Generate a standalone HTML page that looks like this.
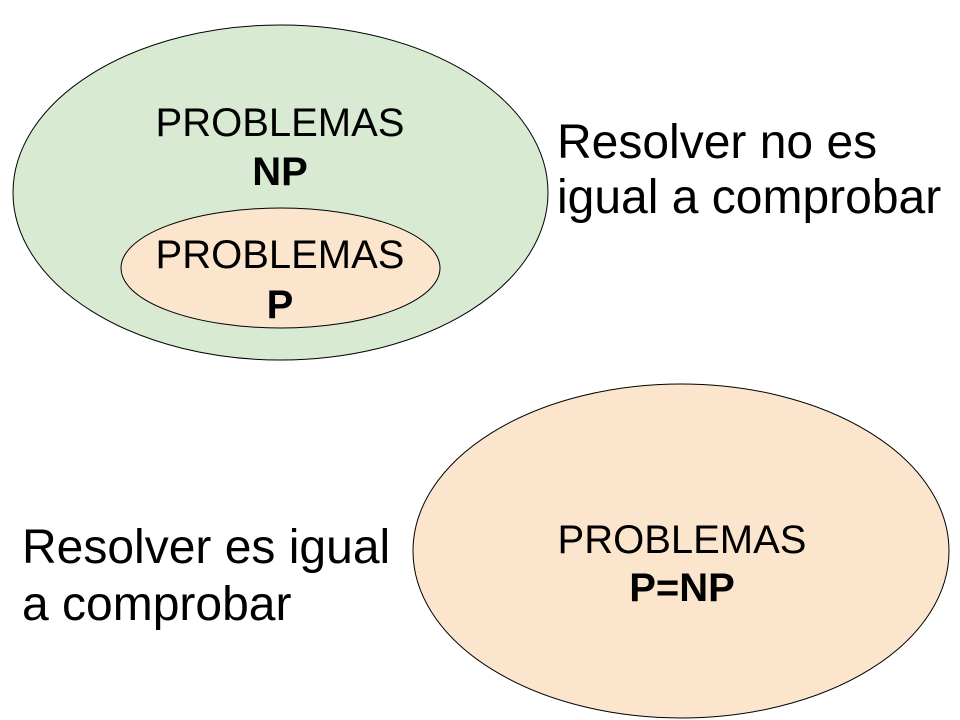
<!DOCTYPE html>
<html><head><meta charset="utf-8"><style>
html,body{margin:0;padding:0;background:#fff;}
svg{display:block;}
text{font-family:"Liberation Sans",Arial,sans-serif;fill:#000;}
</style></head><body>
<svg width="960" height="720" viewBox="0 0 960 720" xmlns="http://www.w3.org/2000/svg">
<rect width="960" height="720" fill="#fff"/>
<ellipse cx="280.5" cy="192.5" rx="267.5" ry="167.5" fill="#d9ead3" stroke="#000" stroke-width="1"/>
<ellipse cx="280.5" cy="268" rx="159.5" ry="60" fill="#fce5cd" stroke="#000" stroke-width="1"/>
<ellipse cx="681" cy="551" rx="268" ry="167" fill="#fce5cd" stroke="#000" stroke-width="1"/>
<g font-size="40" text-anchor="middle">
<text x="280" y="136">PROBLEMAS</text>
<text x="280" y="185" font-weight="bold">NP</text>
<text x="280" y="268">PROBLEMAS</text>
<text x="280" y="318" font-weight="bold">P</text>
<text x="682" y="553">PROBLEMAS</text>
<text x="682" y="601" font-weight="bold">P=NP</text>
</g>
<g font-size="48">
<text x="557" y="158">Resolver no es</text>
<text x="557" y="213">igual a comprobar</text>
<text x="22" y="563">Resolver es igual</text>
<text x="22" y="620">a comprobar</text>
</g>
</svg>
</body></html>
